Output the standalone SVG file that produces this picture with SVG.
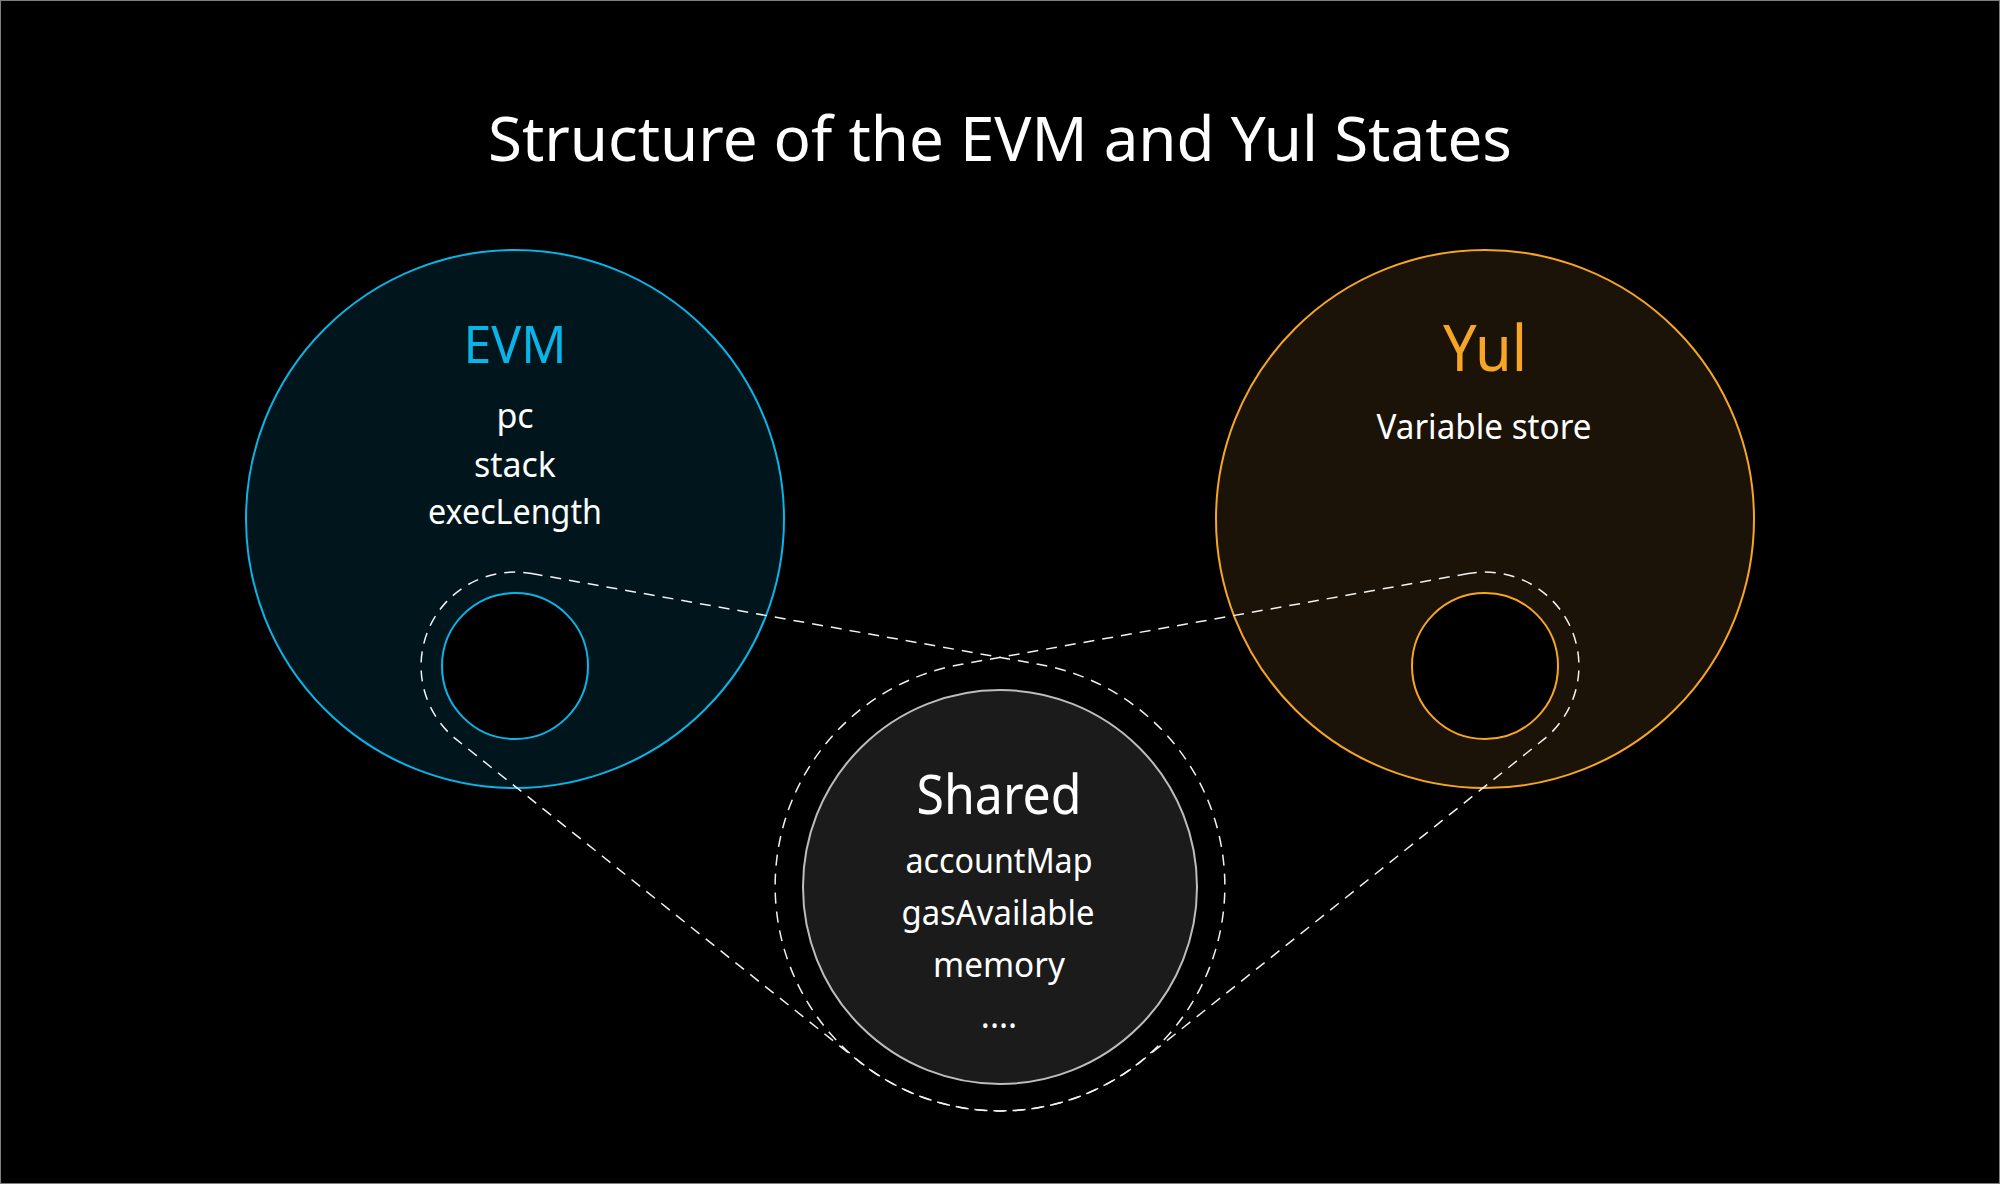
<svg xmlns="http://www.w3.org/2000/svg" width="2000" height="1184" viewBox="0 0 2000 1184">
<style>
  text { font-family: "Noto Sans", "Open Sans", sans-serif; text-anchor: middle; }
  .title { fill: #ffffff; font-size: 62px; }
  .item { fill: #ffffff; font-size: 34px; }
  .evm { fill: #01151d; stroke: #0ab4e6; stroke-width: 2; }
  .yul { fill: #1b1308; stroke: #f6a623; stroke-width: 2; }
  .hole-evm { fill: #000; stroke: #0ab4e6; stroke-width: 2; }
  .hole-yul { fill: #000; stroke: #f6a623; stroke-width: 2; }
  .dash { fill: none; stroke: #f2f2f2; stroke-width: 1.5; stroke-dasharray: 11 8; }
</style>
<rect x="0.5" y="0.5" width="1999" height="1183" fill="#000" stroke="#808080" stroke-width="1"/>
<text class="title" x="1000" y="161" textLength="1024" lengthAdjust="spacingAndGlyphs">Structure of the EVM and Yul States</text>

<g id="evm">
  <circle class="evm" cx="515" cy="519" r="269"/>
  <text x="515" y="363" style="fill:#0ab4e6;font-size:51px" textLength="103" lengthAdjust="spacingAndGlyphs">EVM</text>
  <text class="item" x="515" y="428">pc</text>
  <text class="item" x="515" y="477" textLength="82" lengthAdjust="spacingAndGlyphs">stack</text>
  <text class="item" x="515" y="524" textLength="174" lengthAdjust="spacingAndGlyphs">execLength</text>
</g>

<g id="yul">
  <circle class="yul" cx="1485" cy="519" r="269"/>
  <text x="1485" y="371" style="fill:#f6a623;font-size:63px" textLength="84" lengthAdjust="spacingAndGlyphs">Yul</text>
  <text class="item" x="1484" y="439" textLength="215" lengthAdjust="spacingAndGlyphs">Variable store</text>
</g>

<g id="connectors">
  <path class="dash" d="M 531.6 573.5 L 1039.7 664.5 A 225 225 0 1 1 859.5 1061.8 L 456.3 739.4 A 94 94 0 0 1 531.6 573.5 Z"/>
  <path class="dash" d="M 1468.4 573.5 L 960.3 664.5 A 225 225 0 1 0 1140.5 1061.8 L 1543.7 739.4 A 94 94 0 0 0 1468.4 573.5 Z"/>
</g>

<g id="evm-shared">
  <circle class="hole-evm" cx="515" cy="666" r="73"/>
</g>
<g id="yul-shared">
  <circle class="hole-yul" cx="1485" cy="666" r="73"/>
</g>

<g id="shared">
  <circle cx="1000" cy="887" r="197" fill="#1b1b1b" stroke="#bdbdbd" stroke-width="2"/>
  <text x="999" y="814" style="fill:#fff;font-size:55px" textLength="165" lengthAdjust="spacingAndGlyphs">Shared</text>
  <text class="item" x="999" y="873" textLength="187" lengthAdjust="spacingAndGlyphs">accountMap</text>
  <text class="item" x="998" y="925" textLength="193" lengthAdjust="spacingAndGlyphs">gasAvailable</text>
  <text class="item" x="999" y="977" textLength="132" lengthAdjust="spacingAndGlyphs">memory</text>
  <text class="item" x="999" y="1028">....</text>
</g>
</svg>
